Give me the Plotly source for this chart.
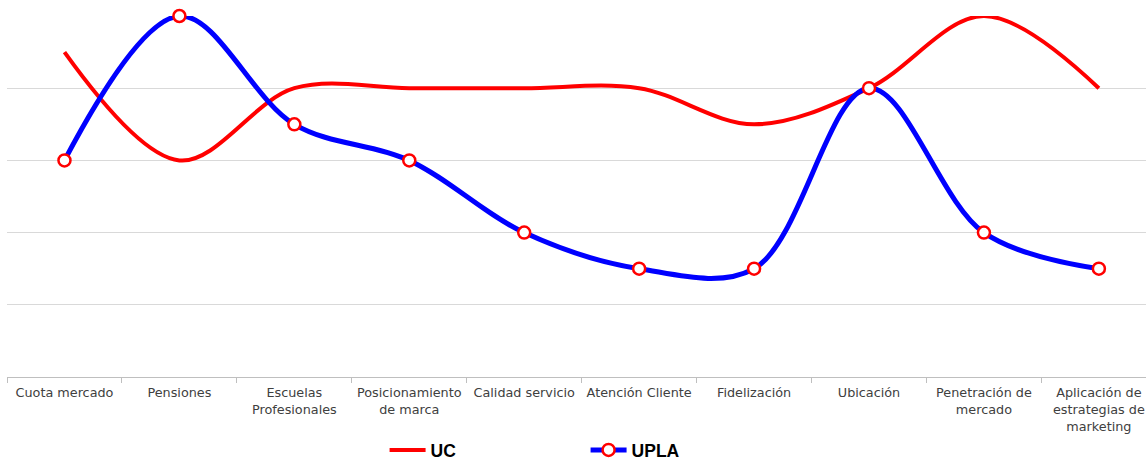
import plotly.graph_objects as go

categories = ["Cuota mercado", "Pensiones", "Escuelas<br>Profesionales",
              "Posicionamiento<br>de marca", "Calidad servicio", "Atención Cliente",
              "Fidelización", "Ubicación", "Penetración de<br>mercado",
              "Aplicación de<br>estrategias de<br>marketing"]
uc = [4.5, 3, 4, 4, 4, 4, 3.5, 4, 5, 4]
upla = [3, 5, 3.5, 3, 2, 1.5, 1.5, 4, 2, 1.5]

fig = go.Figure()
fig.add_trace(go.Scatter(x=categories, y=uc, name="UC", mode="lines", cliponaxis=False,
                         line=dict(color="#FF0000", width=4, shape="spline", smoothing=1)))
fig.add_trace(go.Scatter(x=categories, y=upla, name="UPLA", mode="lines+markers", cliponaxis=False,
                         line=dict(color="#0000FF", width=5, shape="spline", smoothing=1),
                         marker=dict(size=12, color="white", line=dict(color="#FF0000", width=2.5))))

H = 460
top = 16
bottom_px = 377
area_h = H - top  # margin b = 0
fig.update_layout(
    width=1146, height=H,
    margin=dict(l=7, r=0, t=top, b=0, autoexpand=False),
    paper_bgcolor="white", plot_bgcolor="white",
    font=dict(family="DejaVu Sans", size=12.8, color="#404040"),
    showlegend=True,
    legend=dict(orientation="h", x=0.3315, y=(H - 450) / area_h, xanchor="left", yanchor="middle",
                entrywidth=150, entrywidthmode="pixels", itemwidth=36,
                font=dict(family="Liberation Sans", size=17.5, color="black", weight="bold")),
    xaxis=dict(type="category", range=[-0.5, 9.41], tickson="boundaries",
               ticks="outside", ticklen=5, tickcolor="#BFBFBF", tickangle=0,
               showline=True, linecolor="#BFBFBF", linewidth=1,
               showgrid=False, automargin=False, anchor="y", ticklabelstandoff=4),
    yaxis=dict(range=[0, 5], dtick=1, showticklabels=False, showgrid=True,
               domain=[(H - bottom_px) / area_h, 1], automargin=False,
               gridcolor="#D9D9D9", gridwidth=1, zeroline=False, showline=False),
)
fig.write_html("out.html", config={"displayModeBar": False},
               post_script="document.body.style.margin='0';")
